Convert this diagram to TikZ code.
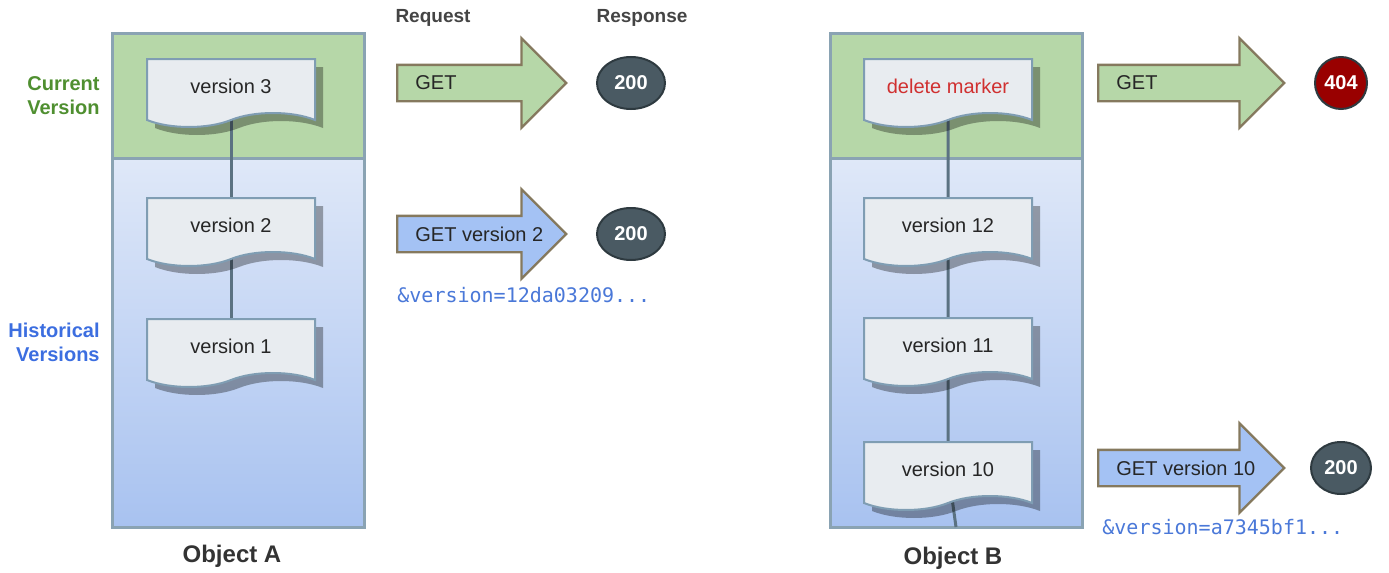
\documentclass[tikz,border=0pt]{standalone}
\usepackage{fontspec}
\setmainfont{Liberation Sans}
\setmonofont{DejaVu Sans Mono}
\usepackage{tikz}
\usetikzlibrary{shapes.geometric,shapes.symbols,shapes.arrows,shadows}

\definecolor{curgreen}{HTML}{B6D7A8}
\definecolor{histtop}{HTML}{DFE8F8}
\definecolor{histbot}{HTML}{A8C2F0}
\definecolor{boxline}{HTML}{8AA3B3}
\definecolor{docfill}{HTML}{E8ECF0}
\definecolor{docline}{HTML}{7F9DB3}
\definecolor{stemline}{HTML}{5B7282}
\definecolor{arrline}{HTML}{85795E}
\definecolor{reqblue}{HTML}{A4C2F4}
\definecolor{respfill}{HTML}{4A5A63}
\definecolor{respline}{HTML}{2E3A40}
\definecolor{notfound}{HTML}{990000}
\definecolor{lblgreen}{HTML}{4F8F30}
\definecolor{lblblue}{HTML}{3C6EE0}
\definecolor{codeblue}{HTML}{4A78D8}
\definecolor{headgray}{HTML}{444444}
\definecolor{markred}{HTML}{D03030}

\pgfdeclarelayer{back}
\pgfdeclarelayer{mid}
\pgfsetlayers{back,mid,main}

\begin{document}
\begin{tikzpicture}[x=0.5pt, y=-0.5pt,
    every node/.style={font=\fontsize{10pt}{12pt}\selectfont},
    docnode/.style={tape, tape bend top=none, tape bend bottom=in and out,
        tape bend height=7pt, draw=docline, line width=1pt, fill=docfill,
        minimum width=84pt, minimum height=34pt, inner sep=0pt, text=black!85,
        drop shadow={shadow xshift=4pt, shadow yshift=-4pt, fill=black, opacity=0.33}},
    reqarrow/.style={single arrow, draw=arrline, line width=1.2pt,
        single arrow head extend=13.25pt, inner xsep=0pt, inner ysep=8.5pt,
        anchor=tail},
    inlbl/.style={anchor=west, inner sep=0pt, xshift=9.5pt, text=black!85},
    resp/.style={ellipse, draw=respline, line width=1pt, fill=respfill,
        minimum width=34pt, minimum height=26pt, inner sep=0pt, text=white,
        font=\fontsize{10pt}{12pt}\selectfont\bfseries},
    codelbl/.style={anchor=west, inner sep=0pt, text=codeblue,
        font=\fontsize{10pt}{12pt}\ttfamily},
    sidelbl/.style={anchor=east, align=right, inner sep=0pt,
        font=\fontsize{10pt}{12pt}\selectfont\bfseries},
    headlbl/.style={text=headgray, font=\fontsize{9.5pt}{11pt}\selectfont\bfseries},
    objlbl/.style={text=black!80, font=\fontsize{12pt}{14pt}\selectfont\bfseries},
    stem/.style={draw=stemline, line width=1.5pt}]
  \useasboundingbox (0,0) rectangle (1389,573);

  % object boxes
  \begin{pgfonlayer}{back}
    \foreach \bx in {112,830} {
      \fill[curgreen] (\bx,33) rectangle (\bx+252,158);
      \shade[top color=histtop, bottom color=histbot] (\bx,158) rectangle (\bx+252,527);
      \draw[boxline, line width=1.5pt] (\bx,33) rectangle (\bx+252,527)
        (\bx,158) -- (\bx+252,158);
    }
  \end{pgfonlayer}

  \node[sidelbl, text=lblgreen] (curlbl) at (100,96) {Current\\Version};
  \node[sidelbl, text=lblblue] (histlbl) at (100,342) {Historical\\Versions};
  \node[headlbl] (reqhead) at (433,18) {Request};
  \node[headlbl] (resphead) at (642,18) {Response};

  % Object A
  \node[docnode] (a3) at (231,86) {version 3};
  \node[docnode] (a2) at (231,225) {version 2};
  \node[docnode] (a1) at (231,346) {version 1};
  \node[objlbl] (objA) at (232,556) {Object A};

  \node[reqarrow, fill=curgreen, minimum height=84.5pt,
        label={[inlbl]west:GET}] (getA) at (396,83) {};
  \node[resp] (respA) at (631,83) {200};
  \node[reqarrow, fill=reqblue, minimum height=84.5pt,
        label={[inlbl]west:GET version 2}] (getA2) at (396,234) {};
  \node[resp] (respA2) at (631,234) {200};
  \node[codelbl] (codeA) at (397,295) {\&version=12da03209...};

  % Object B
  \node[docnode] (dm) at (948,86) {\textcolor{markred}{delete marker}};
  \node[docnode] (b12) at (948,225) {version 12};
  \node[docnode] (b11) at (948,345) {version 11};
  \node[docnode] (b10) at (948,469) {version 10};
  \coordinate (btail) at (956,527);
  \node[objlbl] (objB) at (953,558) {Object B};

  \node[reqarrow, fill=curgreen, minimum height=93pt,
        label={[inlbl]west:GET}] (getB) at (1097,83) {};
  \node[resp, fill=notfound, minimum width=26pt] (respB) at (1341,83) {404};
  \node[reqarrow, fill=reqblue, minimum height=93pt,
        label={[inlbl]west:GET version 10}] (getB10) at (1097,468) {};
  \node[resp, minimum width=30pt] (respB10) at (1341,468) {200};
  \node[codelbl] (codeB) at (1102,527) {\&version=a7345bf1...};

  % version chains
  \begin{pgfonlayer}{mid}
    \draw[stem] (a3.center) -- (a2.center) -- (a1.center);
    \draw[stem] (dm.center) -- (b12.center) -- (b11.center) -- (b10.center) -- (btail);
  \end{pgfonlayer}
\end{tikzpicture}
\end{document}
